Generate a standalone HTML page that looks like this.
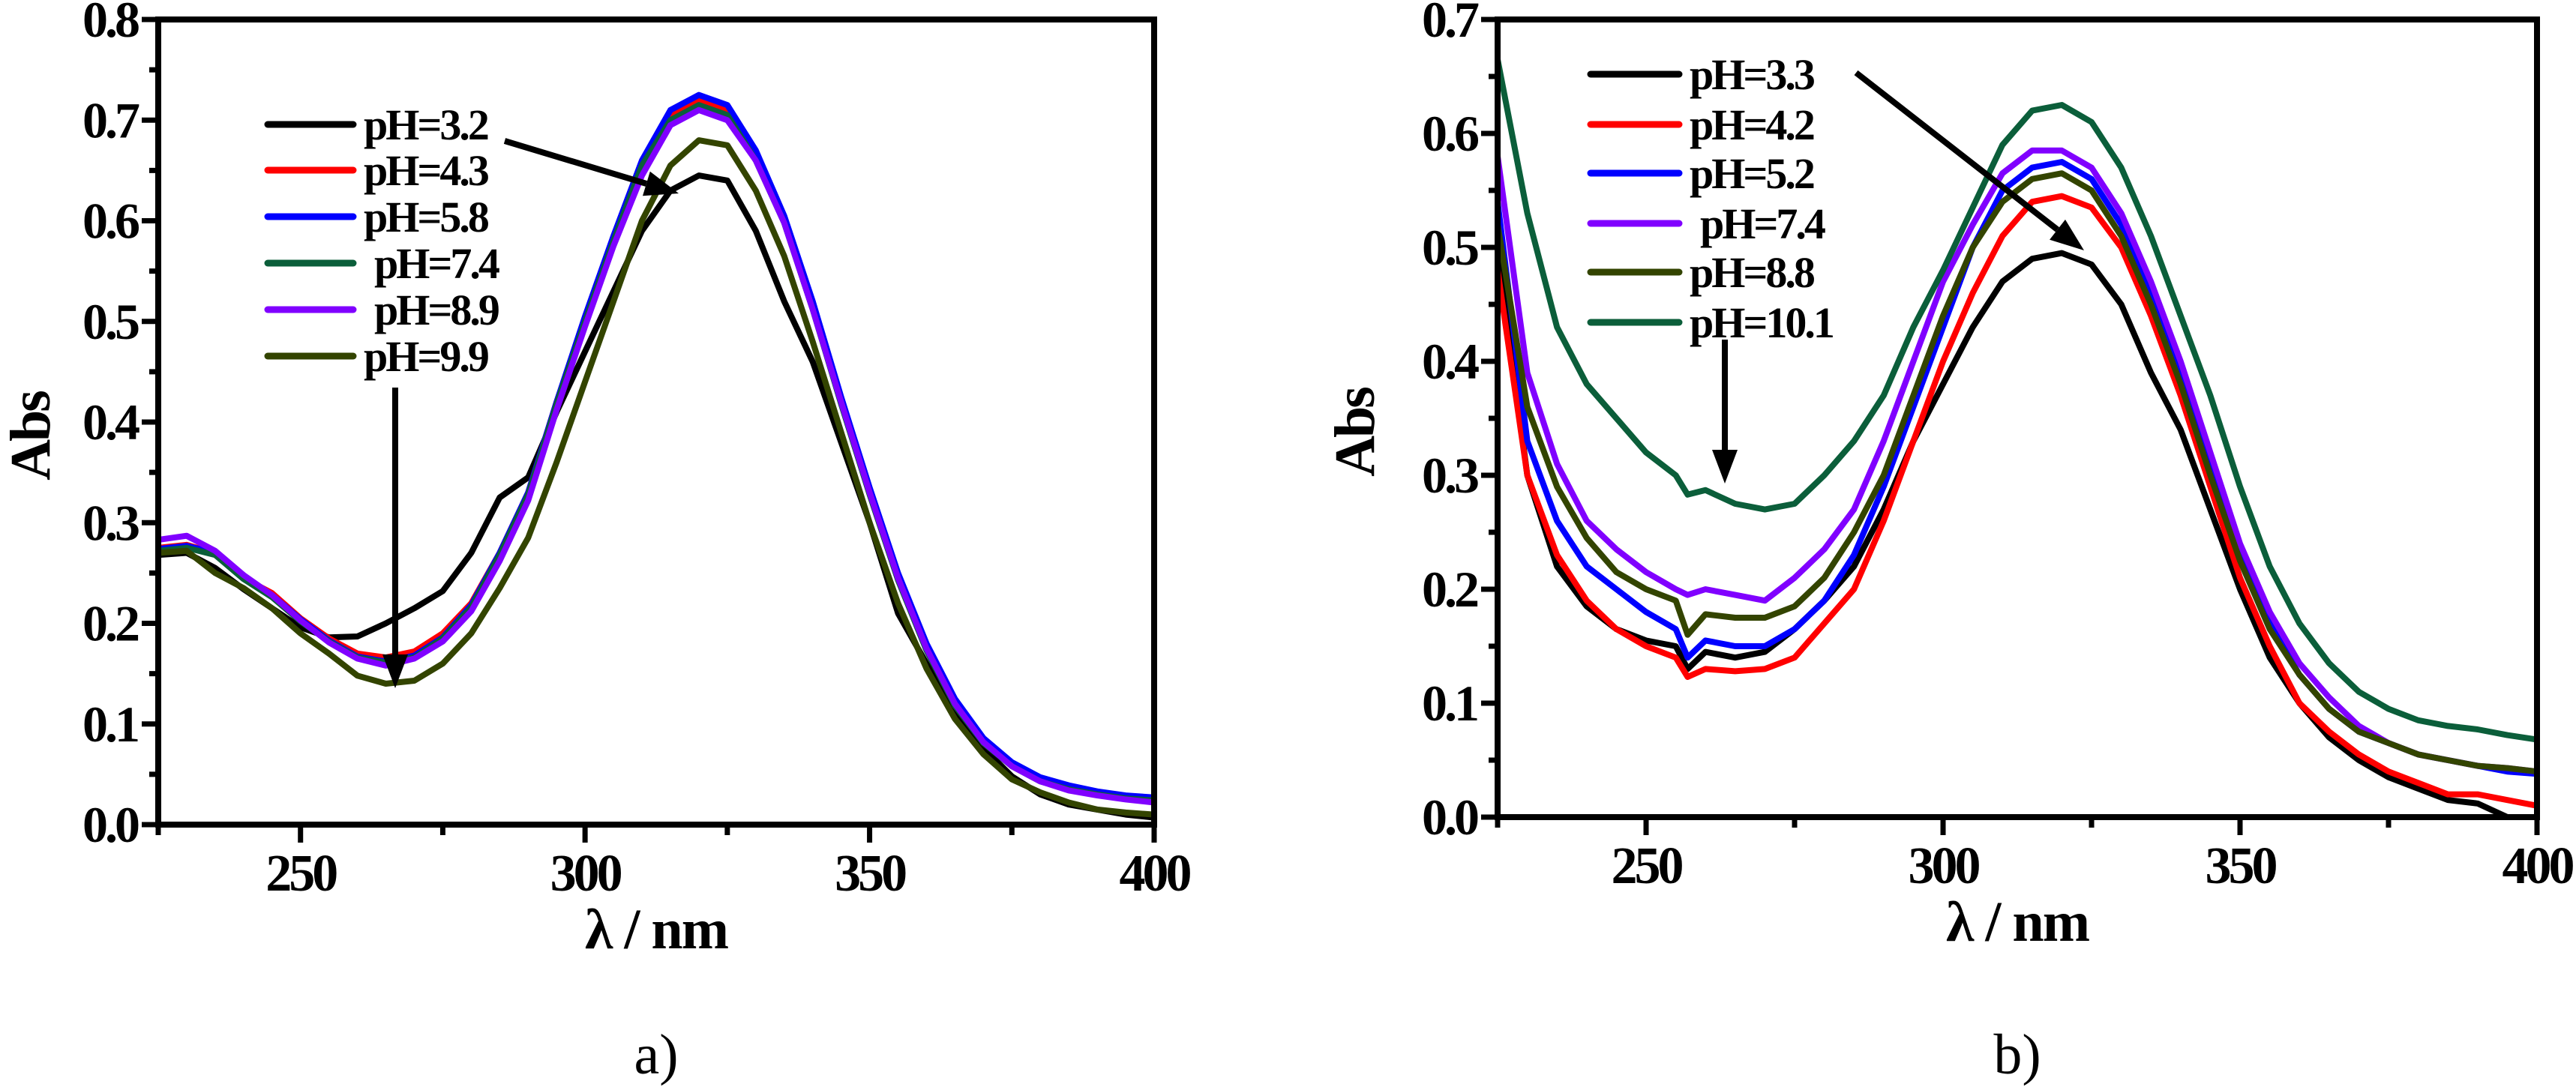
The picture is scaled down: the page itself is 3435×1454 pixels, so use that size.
<!DOCTYPE html>
<html><head><meta charset="utf-8"><style>
html,body{margin:0;padding:0;background:#fff;}
svg text{font-family:"Liberation Serif",serif;}
</style></head><body>
<svg id="fig" width="3435" height="1449" viewBox="0 0 3435 1449" xmlns="http://www.w3.org/2000/svg">
<g id="pa"></g>
<g id="pb"></g>
</svg>
<script>
// Panel a data
const wlA = [225,230,235,240,245,250,255,260,265,270,275,280,285,290,295,300,305,310,315,320,325,330,335,340,345,350,355,360,365,370,375,380,385,390,395,400];
const labelsA = ["pH=3.2","pH=4.3","pH=5.8"," pH=7.4"," pH=8.9","pH=9.9"];
const a32 = [.268,.27,.255,.234,.215,.196,.186,.187,.2,.215,.232,.27,.325,.345,.41,.47,.53,.59,.63,.645,.64,.59,.52,.46,.38,.3,.21,.16,.11,.076,.048,.03,.02,.015,.01,.007];
const a43 = [.275,.278,.27,.245,.23,.205,.185,.17,.166,.172,.19,.22,.27,.33,.42,.5,.58,.655,.705,.72,.71,.665,.6,.515,.42,.33,.245,.175,.12,.083,.06,.045,.037,.032,.028,.026];
const a58 = [.274,.277,.27,.246,.228,.204,.183,.167,.162,.168,.186,.218,.27,.33,.42,.505,.585,.66,.71,.725,.715,.67,.605,.52,.425,.335,.25,.18,.125,.086,.062,.047,.039,.033,.029,.027];
const a74 = [.272,.275,.268,.244,.226,.202,.182,.166,.161,.166,.185,.216,.268,.328,.418,.5,.58,.655,.7,.715,.705,.66,.598,.512,.418,.328,.243,.173,.118,.081,.058,.043,.035,.03,.026,.024];
const a89 = [.283,.287,.272,.248,.228,.203,.181,.165,.158,.165,.182,.212,.262,.322,.412,.495,.575,.645,.695,.71,.7,.66,.598,.512,.42,.33,.245,.175,.12,.082,.058,.043,.034,.029,.025,.022];
const a99 = [.27,.272,.25,.235,.215,.19,.17,.148,.14,.143,.16,.19,.235,.285,.36,.44,.52,.6,.655,.68,.675,.63,.565,.48,.39,.3,.22,.155,.105,.07,.045,.032,.022,.015,.012,.01];
// Panel b data
const wlB = [225,230,235,240,245,250,255,257,260,265,270,275,280,285,290,295,300,305,310,315,320,325,330,335,340,345,350,355,360,365,370,375,380,385,390,395,400];
const labelsB = ["pH=3.3","pH=4.2","pH=5.2"," pH=7.4","pH=8.8","pH=10.1"];
const b33 = [.5,.3,.22,.185,.165,.155,.15,.13,.145,.14,.145,.165,.19,.22,.27,.33,.38,.43,.47,.49,.495,.485,.45,.39,.34,.27,.2,.14,.1,.07,.05,.035,.025,.015,.012,0,0];
const b42 = [.48,.3,.23,.19,.165,.15,.14,.123,.13,.128,.13,.14,.17,.2,.26,.33,.4,.46,.51,.54,.545,.535,.5,.44,.37,.29,.21,.15,.1,.075,.055,.04,.03,.02,.02,.015,.01];
const b52 = [.54,.33,.26,.22,.2,.18,.165,.14,.155,.15,.15,.165,.19,.23,.29,.36,.43,.5,.55,.57,.575,.56,.52,.46,.39,.31,.23,.17,.125,.095,.075,.065,.055,.05,.045,.04,.038];
const b74 = [.58,.39,.31,.26,.235,.215,.2,.195,.2,.195,.19,.21,.235,.27,.33,.4,.47,.52,.565,.585,.585,.57,.53,.47,.4,.32,.24,.18,.135,.105,.08,.065,.055,.05,.045,.043,.04];
const b88 = [.52,.36,.29,.245,.215,.2,.19,.16,.178,.175,.175,.185,.21,.25,.3,.37,.44,.5,.54,.56,.565,.55,.51,.45,.38,.3,.225,.165,.125,.095,.075,.065,.055,.05,.045,.043,.04];
const b101 = [.665,.53,.43,.38,.35,.32,.3,.283,.287,.275,.27,.275,.3,.33,.37,.43,.48,.535,.59,.62,.625,.61,.57,.51,.44,.37,.29,.22,.17,.135,.11,.095,.085,.08,.077,.072,.068];
const xTicks = [250,300,350,400];
const yTicksA = [0,0.1,0.2,0.3,0.4,0.5,0.6,0.7,0.8];
const yTicksB = [0,0.1,0.2,0.3,0.4,0.5,0.6,0.7];
const colors = ["#000000","#ff0000","#0000ff","#0b5e3a","#8000ff","#334400"];
const colorsB = ["#000000","#ff0000","#0000ff","#8000ff","#334400","#0b5e3a"];

const NS="http://www.w3.org/2000/svg";
function mk(tag, attrs, parent){const e=document.createElementNS(NS,tag);for(const k in attrs)e.setAttribute(k,attrs[k]);parent.appendChild(e);return e;}

function panel(g, cfg){
  const X=w=>cfg.x0+(w-225)/175*(cfg.x1-cfg.x0);
  const Y=v=>cfg.y1-v/cfg.ymax*(cfg.y1-cfg.y0);
  cfg.series.forEach((s,i)=>{
    const p=mk('polyline',{points:s.map((v,j)=>X(cfg.wl[j]).toFixed(1)+','+Y(v).toFixed(1)).join(' '),fill:'none',stroke:cfg.colors[i],'stroke-width':8,'stroke-linejoin':'round'},g);
    
    
  });
  const fr=mk('rect',{x:cfg.x0,y:cfg.y0,width:cfg.x1-cfg.x0,height:cfg.y1-cfg.y0,fill:'none',stroke:'#000','stroke-width':8},g);
  
  
  cfg.yt.forEach((v,i)=>{
    const y=Y(v);
    mk('line',{x1:cfg.x0-22,x2:cfg.x0,y1:y,y2:y,stroke:'#000','stroke-width':7},g);
    if(i<cfg.yt.length-1){const ym=Y(v+0.05);mk('line',{x1:cfg.x0-12,x2:cfg.x0,y1:ym,y2:ym,stroke:'#000','stroke-width':7},g);}
    const t=mk('text',{x:cfg.x0-28,y:y+23,'text-anchor':'end','font-size':68,'font-weight':'bold','letter-spacing':-4},g);
    t.textContent=v.toFixed(1);
    
    
  });
  [225,250,275,300,325,350,375,400].forEach(w=>{
    const x=X(w);const major=xTicks.includes(w);
    mk('line',{x1:x,x2:x,y1:cfg.y1,y2:cfg.y1+(major?24:14),stroke:'#000','stroke-width':7},g);
  });
  xTicks.forEach(w=>{
    const t=mk('text',{x:X(w),y:cfg.y1+88,'text-anchor':'middle','font-size':70,'font-weight':'bold','letter-spacing':-4},g);
    t.textContent=w;
    
    
  });
  const xt=mk('text',{x:(cfg.x0+cfg.x1)/2,y:cfg.y1+165,'text-anchor':'middle','font-size':76,'font-weight':'bold','letter-spacing':-2},g);
  xt.textContent='λ / nm';
  
  
  const yt=mk('text',{x:0,y:0,'text-anchor':'middle','font-size':76,'font-weight':'bold','letter-spacing':-3,transform:`translate(${cfg.absX},${cfg.absY}) rotate(-90)`},g);
  yt.textContent='Abs';
  
  
  cfg.labels.forEach((l,i)=>{
    const y=cfg.legY[i];
    const ln=mk('line',{x1:cfg.legX0,x2:cfg.legX1,y1:y,y2:y,stroke:cfg.colors[i],'stroke-width':9,'stroke-linecap':'round'},g);
    
    
    const t=mk('text',{x:cfg.legX1+14+(l.startsWith(' ')?14:0),y:y+20,'font-size':58,'font-weight':'bold','letter-spacing':-3},g);
    t.textContent=l.trim();
    
    
  });
  cfg.arrows.forEach(a=>{
    const [x1,y1,x2,y2]=a;const ang=Math.atan2(y2-y1,x2-x1);const L=45,W=17;
    const bx=x2-L*Math.cos(ang),by=y2-L*Math.sin(ang);
    const ln=mk('line',{x1,y1,x2:bx,y2:by,stroke:'#000','stroke-width':8},g);
    
    
    mk('polygon',{points:`${x2},${y2} ${bx+W*Math.sin(ang)},${by-W*Math.cos(ang)} ${bx-W*Math.sin(ang)},${by+W*Math.cos(ang)}`,fill:'#000'},g);
  });
  const cap=mk('text',{x:(cfg.x0+cfg.x1)/2,y:1432,'text-anchor':'middle','font-size':76},g);
  cap.textContent=cfg.cap;
  
  
}
panel(document.getElementById('pa'),{x0:211,x1:1539,y0:26,y1:1100,ymax:0.8,wl:wlA,series:[a32,a43,a58,a74,a89,a99],labels:labelsA,colors:colors,yt:yTicksA,
  absX:66,absY:582,legX0:357,legX1:471,legY:[166,227,289,351,413,475],arrows:[[673,188,905,258],[527,517,527,918]],cap:'a)'});
panel(document.getElementById('pb'),{x0:1997,x1:3383,y0:26,y1:1090,ymax:0.7,wl:wlB,series:[b33,b42,b52,b74,b88,b101],labels:labelsB,colors:colorsB,yt:yTicksB,
  absX:1832,absY:577,legX0:2121,legX1:2239,legY:[99,166,231,298,363,430],arrows:[[2475,97,2779,334],[2300,453,2300,645]],cap:'b)'});
</script>
</body></html>
